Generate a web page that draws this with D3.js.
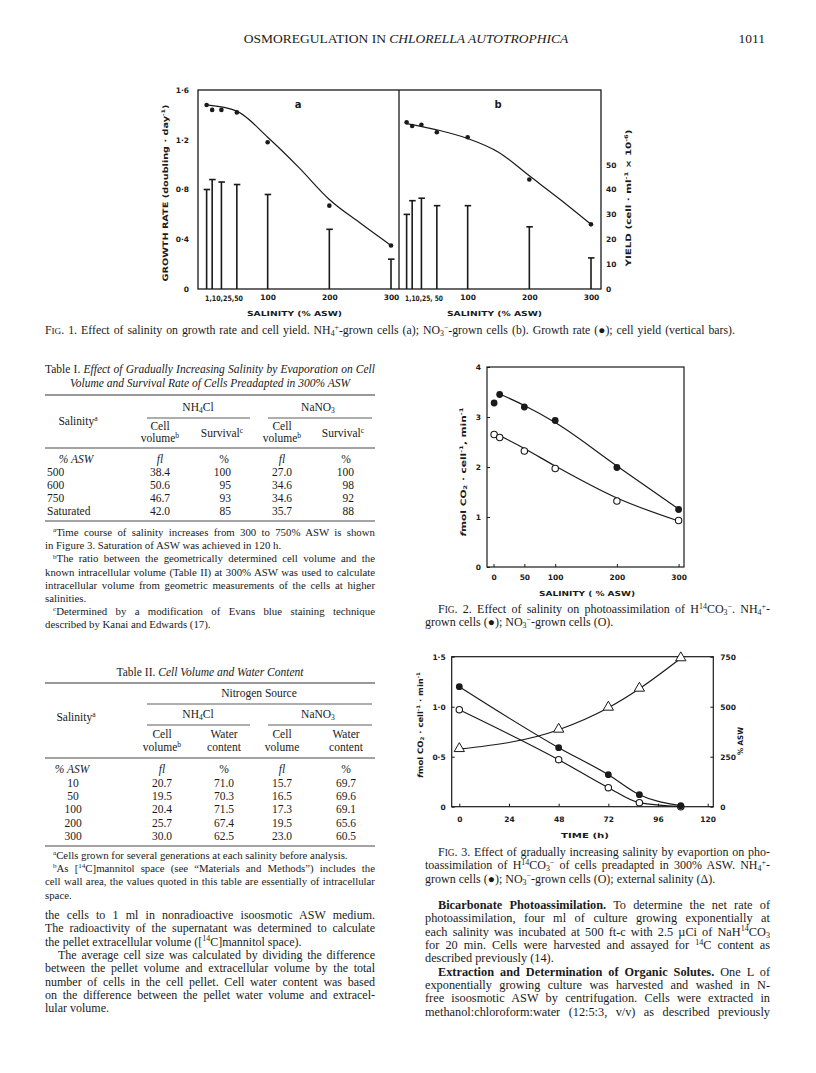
<!DOCTYPE html>
<html>
<head>
<meta charset="utf-8">
<script src="https://cdn.jsdelivr.net/npm/d3@7"></script>
<style>
  body { margin: 0; background: #fff; }
  svg { display: block; }
</style>
</head>
<body>
<svg id="page" width="816" height="1073"></svg>
<script>
// ---- Fig. 1 : growth rate and cell yield vs salinity ----
const salinity1 = [1, 10, 25, 50, 100, 200, 300];
const growthNH4 = [1.48, 1.44, 1.44, 1.42, 1.18, 0.67, 0.35];
const growthNO3 = [1.34, 1.31, 1.32, 1.26, 1.22, 0.88, 0.52];
const yieldNH4 = [40, 44, 43, 42, 38, 24, 12];
const yieldNO3 = [30, 35.5, 36.5, 33.5, 33.5, 25, 12.5];
const fitSal1 = [1, 50, 100, 150, 200, 250, 300];
const fitGrowthNH4 = [1.48, 1.43, 1.22, 0.98, 0.72, 0.53, 0.35];
const fitGrowthNO3 = [1.33, 1.28, 1.21, 1.10, 0.91, 0.72, 0.52];
const growthTicks = [0, 0.4, 0.8, 1.2, 1.6];
const yieldTicks = [0, 10, 20, 30, 40, 50];
const salTicks1 = [100, 200, 300];

// ---- Fig. 2 : photoassimilation vs salinity ----
const salinity2 = [1, 10, 50, 100, 200, 300];
const co2NH4 = [3.28, 3.45, 3.2, 2.93, 1.99, 1.15];
const co2NO3 = [2.65, 2.59, 2.32, 1.97, 1.32, 0.93];
const fitSal2 = [8, 50, 100, 200, 300];
const fitCo2NH4 = [3.47, 3.23, 2.89, 2.02, 1.16];
const fitCo2NO3 = [2.64, 2.37, 2.02, 1.38, 0.92];
const co2Ticks = [0, 1, 2, 3, 4];
const salTicks2 = [0, 50, 100, 200, 300];

// ---- Fig. 3 : time course during evaporation ----
const time3 = [0, 48, 72, 87, 107];
const co2NH4t = [1.2, 0.59, 0.32, 0.12, 0.01];
const co2NO3t = [0.97, 0.47, 0.19, 0.04, 0.0];
const aswT = [288, 385, 495, 590, 742];
const timeTicks = [0, 24, 48, 72, 96, 120];
const co2Ticks3 = [0, 0.5, 1.0, 1.5];
const aswTicks = [0, 250, 500, 750];

// ---- Table I ----
const t1Sal = ['500', '600', '750', 'Saturated'];
const t1VolNH4 = ['38.4', '50.6', '46.7', '42.0'];
const t1SurvNH4 = ['100', '95', '93', '85'];
const t1VolNO3 = ['27.0', '34.6', '34.6', '35.7'];
const t1SurvNO3 = ['100', '98', '92', '88'];

// ---- Table II ----
const t2Sal = ['10', '50', '100', '200', '300'];
const t2VolNH4 = ['20.7', '19.5', '20.4', '25.7', '30.0'];
const t2WaterNH4 = ['71.0', '70.3', '71.5', '67.4', '62.5'];
const t2VolNO3 = ['15.7', '16.5', '17.3', '19.5', '23.0'];
const t2WaterNO3 = ['69.7', '69.6', '69.1', '65.6', '60.5'];

const INK = '#1a1a1a';
const SERIF = '"Liberation Serif", "Times New Roman", serif';
const LET = '"DejaVu Sans", sans-serif';

const svg = d3.select('#page');
svg.append('rect').attr('width', 816).attr('height', 1073).attr('fill', '#fff');

// small markup: <i> <b> <k>(small caps) _{sub} ^{sup}
function rich(g, str, x, y, size, opts = {}) {
  const t = g.append('text').attr('x', x).attr('y', y)
    .attr('font-family', opts.family || SERIF).attr('font-size', size)
    .attr('fill', INK);
  if (opts.anchor) t.attr('text-anchor', opts.anchor);
  if (opts.weight) t.attr('font-weight', opts.weight);
  const parts = str.split(/(<\/?[ibk]>|_\{[^}]*\}|\^\{[^}]*\})/).filter(p => p);
  let it = false, bd = false, sc = false, off = 0;
  parts.forEach(p => {
    if (p === '<i>') { it = true; return; }
    if (p === '</i>') { it = false; return; }
    if (p === '<b>') { bd = true; return; }
    if (p === '</b>') { bd = false; return; }
    if (p === '<k>') { sc = true; return; }
    if (p === '</k>') { sc = false; return; }
    let text = p, fs = size, shift = 0;
    if (p.startsWith('_{')) { text = p.slice(2, -1); fs = size * 0.66; shift = size * 0.16; }
    else if (p.startsWith('^{')) { text = p.slice(2, -1); fs = size * 0.66; shift = -size * 0.36; }
    if (sc) fs = size * 0.78;
    const ts = t.append('tspan').text(text).attr('font-size', fs);
    if (shift - off !== 0) ts.attr('dy', shift - off);
    off = shift;
    if (it) ts.attr('font-style', 'italic');
    if (bd) ts.attr('font-weight', 'bold');
  });
  if (opts.width) {
    const n = t.node().getComputedTextLength();
    const spaces = (t.text().match(/ /g) || []).length;
    if (spaces) t.attr('word-spacing', ((opts.width - n) / spaces).toFixed(2));
  }
  if (opts.length) t.attr('textLength', opts.length).attr('lengthAdjust', 'spacingAndGlyphs');
  return t;
}

function paragraph(g, lines, x0, right, y0, lead, size) {
  lines.forEach((ln, i) => {
    const x = x0 + (ln.indent || 0);
    rich(g, ln.s, x, y0 + i * lead, size, ln.last ? {} : { width: right - x });
  });
}

function rule(g, x1, x2, y, w) {
  g.append('line').attr('x1', x1).attr('x2', x2).attr('y1', y).attr('y2', y)
    .attr('stroke', '#333').attr('stroke-width', w || 0.9);
}

const dec = d => d === 0 ? '0' : d3.format('.1f')(d).replace('.', '·');
const int = d3.format('d');

function styleAxis(g, size) {
  g.select('.domain').remove();
  g.selectAll('line').attr('stroke', INK).attr('stroke-width', 1);
  g.selectAll('text').attr('font-family', LET).attr('font-size', size)
    .attr('font-weight', 'bold').attr('fill', INK);
}

// ---------------- header ----------------
const head = svg.append('g');
rich(head, 'OSMOREGULATION IN <i>CHLORELLA AUTOTROPHICA</i>', 406, 43, 13.5, { anchor: 'middle' });
rich(head, '1011', 765, 43, 13.5, { anchor: 'end' });

// ---------------- Fig. 1 ----------------
const f1 = svg.append('g');
const yGrowth = d3.scaleLinear().domain([0, 1.6]).range([289, 90]);
const yYield = d3.scaleLinear().domain([0, 80]).range([289, 90]);
const xA = d3.scaleLinear().domain([0, 300]).range([206, 391]);
const xB = d3.scaleLinear().domain([0, 300]).range([406, 591]);

f1.append('rect').attr('x', 198).attr('y', 90).attr('width', 403).attr('height', 199)
  .attr('fill', 'none').attr('stroke', INK).attr('stroke-width', 1.3);
f1.append('line').attr('x1', 399).attr('x2', 399).attr('y1', 90).attr('y2', 289)
  .attr('stroke', INK).attr('stroke-width', 1.3);

const ga = f1.append('g').attr('transform', 'translate(198,0)')
  .call(d3.axisLeft(yGrowth).tickValues(growthTicks).tickSize(0).tickPadding(9).tickFormat(dec));
styleAxis(ga, 7.5);
const gy = f1.append('g').attr('transform', 'translate(601,0)')
  .call(d3.axisRight(yYield).tickValues(yieldTicks).tickSize(0).tickPadding(5).tickFormat(int));
styleAxis(gy, 7.5);

[[xA, 'a'], [xB, 'b']].forEach(([xs, lab]) => {
  const gb = f1.append('g').attr('transform', 'translate(0,289)')
    .call(d3.axisBottom(xs).tickValues(salTicks1).tickSize(0).tickPadding(6).tickFormat(int));
  styleAxis(gb, 7.5);
  rich(f1, lab === 'a' ? '1,10,25,50' : '1,10,25, 50', xs(0) - 1, 301, 7.5,
    { family: LET, weight: 'bold', length: 38 });
  rich(f1, 'SALINITY  (% ASW)', (xs(0) + xs(300)) / 2 - 4, 316, 7,
    { family: LET, weight: 'bold', anchor: 'middle', length: 95 });
});
rich(f1, 'a', 298, 108, 10, { family: LET, weight: 'bold', anchor: 'middle' });
rich(f1, 'b', 498, 108, 10, { family: LET, weight: 'bold', anchor: 'middle' });

rich(f1.append('g').attr('transform', 'translate(168,193) rotate(-90)'),
  'GROWTH  RATE  (doubling · day^{-1})', 0, 0, 7.5,
  { family: LET, weight: 'bold', anchor: 'middle', length: 177 });
rich(f1.append('g').attr('transform', 'translate(631,198) rotate(-90)'),
  'YIELD  (cell · ml^{-1} × 10^{-6})', 0, 0, 7.5,
  { family: LET, weight: 'bold', anchor: 'middle', length: 137 });

function fig1Panel(xs, growth, yields, fit) {
  const g = f1.append('g');
  salinity1.forEach((s, i) => {
    g.append('line').attr('x1', xs(s)).attr('x2', xs(s))
      .attr('y1', yYield(0)).attr('y2', yYield(yields[i]))
      .attr('stroke', INK).attr('stroke-width', 1.6);
    g.append('line').attr('x1', xs(s) - 3).attr('x2', xs(s) + 3.5)
      .attr('y1', yYield(yields[i])).attr('y2', yYield(yields[i]))
      .attr('stroke', INK).attr('stroke-width', 1.6);
  });
  const line = d3.line().x(d => xs(d[0])).y(d => yGrowth(d[1])).curve(d3.curveMonotoneX);
  g.append('path').attr('d', line(d3.zip(fitSal1, fit)))
    .attr('fill', 'none').attr('stroke', INK).attr('stroke-width', 1.2);
  g.selectAll('circle').data(d3.zip(salinity1, growth)).join('circle')
    .attr('cx', d => xs(d[0])).attr('cy', d => yGrowth(d[1])).attr('r', 2.3).attr('fill', INK);
}
fig1Panel(xA, growthNH4, yieldNH4, fitGrowthNH4);
fig1Panel(xB, growthNO3, yieldNO3, fitGrowthNO3);

rich(svg, 'F<k>IG</k>. 1. Effect of salinity on growth rate and cell yield. NH_{4}^{+}-grown cells (a); NO_{3}^{−}-grown cells (b). Growth rate (●); cell yield (vertical bars).',
  45, 334, 11.8, { width: 690 });

// ---------------- Table I ----------------
const t1 = svg.append('g');
rich(t1, 'Table I. <i>Effect of Gradually Increasing Salinity by Evaporation on Cell</i>', 45, 373, 11.5, { width: 330 });
rich(t1, '<i>Volume and Survival Rate of Cells Preadapted in 300% ASW</i>', 210, 387, 11.5, { anchor: 'middle' });
rule(t1, 45, 375, 395, 1.2);
rich(t1, 'NH_{4}Cl', 198, 411, 11.5, { anchor: 'middle' });
rich(t1, 'NaNO_{3}', 318, 411, 11.5, { anchor: 'middle' });
rule(t1, 147, 250, 418, 0.8);
rule(t1, 268, 372, 418, 0.8);
rich(t1, 'Salinity^{a}', 78, 425, 11.5, { anchor: 'middle' });
[[160, 'Cell', 'volume^{b}'], [282, 'Cell', 'volume^{b}']].forEach(([x, a, b]) => {
  rich(t1, a, x, 430, 11.5, { anchor: 'middle' });
  rich(t1, b, x, 442, 11.5, { anchor: 'middle' });
});
rich(t1, 'Survival^{c}', 222, 437, 11.5, { anchor: 'middle' });
rich(t1, 'Survival^{c}', 343, 437, 11.5, { anchor: 'middle' });
rule(t1, 45, 375, 448, 0.9);
rich(t1, '<i>% ASW</i>', 76, 463, 11.5, { anchor: 'middle' });
rich(t1, '<i>fl</i>', 160, 463, 11.5, { anchor: 'middle' });
rich(t1, '%', 224, 463, 11.5, { anchor: 'middle' });
rich(t1, '<i>fl</i>', 282, 463, 11.5, { anchor: 'middle' });
rich(t1, '%', 346, 463, 11.5, { anchor: 'middle' });
t1Sal.forEach((s, i) => {
  const y = 476 + i * 13;
  rich(t1, s, 47, y, 11.5);
  rich(t1, t1VolNH4[i], 160, y, 11.5, { anchor: 'middle' });
  rich(t1, t1SurvNH4[i], 231, y, 11.5, { anchor: 'end' });
  rich(t1, t1VolNO3[i], 282, y, 11.5, { anchor: 'middle' });
  rich(t1, t1SurvNO3[i], 354, y, 11.5, { anchor: 'end' });
});
rule(t1, 45, 375, 521, 0.9);
paragraph(t1, [
  { s: '^{a}Time course of salinity increases from 300 to 750% ASW is shown', indent: 8 },
  { s: 'in Figure 3. Saturation of ASW was achieved in 120 h.', last: true },
  { s: '^{b}The ratio between the geometrically determined cell volume and the', indent: 8 },
  { s: 'known intracellular volume (Table II) at 300% ASW was used to calculate' },
  { s: 'intracellular volume from geometric measurements of the cells at higher' },
  { s: 'salinities.', last: true },
  { s: '^{c}Determined by a modification of Evans blue staining technique', indent: 8 },
  { s: 'described by Kanai and Edwards (17).', last: true }
], 45, 375, 536, 13.2, 10.8);

// ---------------- Table II ----------------
const t2 = svg.append('g');
rich(t2, 'Table II. <i>Cell Volume and Water Content</i>', 210, 676, 11.5, { anchor: 'middle' });
rule(t2, 45, 375, 683, 1.2);
rich(t2, 'Nitrogen Source', 259, 697, 11.5, { anchor: 'middle' });
rule(t2, 147, 372, 704, 0.8);
rich(t2, 'NH_{4}Cl', 198, 718, 11.5, { anchor: 'middle' });
rich(t2, 'NaNO_{3}', 318, 718, 11.5, { anchor: 'middle' });
rule(t2, 147, 250, 725, 0.8);
rule(t2, 268, 372, 725, 0.8);
rich(t2, 'Salinity^{a}', 76, 721, 11.5, { anchor: 'middle' });
[[162, 'Cell', 'volume^{b}'], [224, 'Water', 'content'], [282, 'Cell', 'volume'], [346, 'Water', 'content']]
  .forEach(([x, a, b]) => {
    rich(t2, a, x, 738, 11.5, { anchor: 'middle' });
    rich(t2, b, x, 751, 11.5, { anchor: 'middle' });
  });
rule(t2, 45, 375, 758, 0.9);
rich(t2, '<i>% ASW</i>', 72, 773, 11.5, { anchor: 'middle' });
rich(t2, '<i>fl</i>', 162, 773, 11.5, { anchor: 'middle' });
rich(t2, '%', 224, 773, 11.5, { anchor: 'middle' });
rich(t2, '<i>fl</i>', 282, 773, 11.5, { anchor: 'middle' });
rich(t2, '%', 346, 773, 11.5, { anchor: 'middle' });
t2Sal.forEach((s, i) => {
  const y = 787 + i * 13.2;
  rich(t2, s, 73, y, 11.5, { anchor: 'middle' });
  rich(t2, t2VolNH4[i], 162, y, 11.5, { anchor: 'middle' });
  rich(t2, t2WaterNH4[i], 224, y, 11.5, { anchor: 'middle' });
  rich(t2, t2VolNO3[i], 282, y, 11.5, { anchor: 'middle' });
  rich(t2, t2WaterNO3[i], 346, y, 11.5, { anchor: 'middle' });
});
rule(t2, 45, 375, 846, 0.9);
paragraph(t2, [
  { s: '^{a}Cells grown for several generations at each salinity before analysis.', indent: 8, last: true },
  { s: '^{b}As [^{14}C]mannitol space (see “Materials and Methods”) includes the', indent: 8 },
  { s: 'cell wall area, the values quoted in this table are essentially of intracellular' },
  { s: 'space.', last: true }
], 45, 375, 859, 13.2, 10.8);

// ---------------- left column body ----------------
paragraph(svg, [
  { s: 'the cells to 1 ml in nonradioactive isoosmotic ASW medium.' },
  { s: 'The radioactivity of the supernatant was determined to calculate' },
  { s: 'the pellet extracellular volume ([^{14}C]mannitol space).', last: true },
  { s: 'The average cell size was calculated by dividing the difference', indent: 13 },
  { s: 'between the pellet volume and extracellular volume by the total' },
  { s: 'number of cells in the cell pellet. Cell water content was based' },
  { s: 'on the difference between the pellet water volume and extracel-' },
  { s: 'lular volume.', last: true }
], 45, 375, 919, 13.35, 12);

// ---------------- Fig. 2 ----------------
const f2 = svg.append('g');
const x2 = d3.scaleLinear().domain([0, 300]).range([493.5, 678.6]);
const y2 = d3.scaleLinear().domain([0, 4]).range([567, 367]);
f2.append('rect').attr('x', 487).attr('y', 367).attr('width', 197).attr('height', 200)
  .attr('fill', 'none').attr('stroke', INK).attr('stroke-width', 1.2);
styleAxis(f2.append('g').attr('transform', 'translate(487,0)')
  .call(d3.axisLeft(y2).tickValues(co2Ticks).tickSizeInner(-3).tickSizeOuter(0).tickPadding(6).tickFormat(int)), 7.5);
styleAxis(f2.append('g').attr('transform', 'translate(0,567)')
  .call(d3.axisBottom(x2).tickValues(salTicks2).tickSizeInner(-3).tickSizeOuter(0).tickPadding(8).tickFormat(int)), 7.5);
rich(f2, 'SALINITY  ( % ASW)', 587, 596, 7, { family: LET, weight: 'bold', anchor: 'middle', length: 96 });
rich(f2.append('g').attr('transform', 'translate(466,472) rotate(-90)'),
  '<i>f</i>mol  CO_{2} · cell^{-1}, min^{-1}', 0, 0, 7.5,
  { family: LET, weight: 'bold', anchor: 'middle', length: 129 });
const line2 = d3.line().x(d => x2(d[0])).y(d => y2(d[1])).curve(d3.curveMonotoneX);
[fitCo2NH4, fitCo2NO3].forEach(fit => {
  f2.append('path').attr('d', line2(d3.zip(fitSal2, fit)))
    .attr('fill', 'none').attr('stroke', INK).attr('stroke-width', 1.2);
});
f2.append('g').selectAll('circle').data(d3.zip(salinity2, co2NH4)).join('circle')
  .attr('cx', d => x2(d[0])).attr('cy', d => y2(d[1])).attr('r', 3.4).attr('fill', INK);
f2.append('g').selectAll('circle').data(d3.zip(salinity2, co2NO3)).join('circle')
  .attr('cx', d => x2(d[0])).attr('cy', d => y2(d[1])).attr('r', 3.2)
  .attr('fill', '#fff').attr('stroke', INK).attr('stroke-width', 1.1);

paragraph(svg, [
  { s: 'F<k>IG</k>. 2. Effect of salinity on photoassimilation of H^{14}CO_{3}^{−}. NH_{4}^{+}-', indent: 13 },
  { s: 'grown cells (●); NO_{3}^{−}-grown cells (O).', last: true }
], 425, 770, 613, 13.3, 12);

// ---------------- Fig. 3 ----------------
const f3 = svg.append('g');
const x3 = d3.scaleLinear().domain([0, 120]).range([459.3, 707.7]);
const yP = d3.scaleLinear().domain([0, 1.5]).range([806.7, 656.7]);
const yS = d3.scaleLinear().domain([0, 750]).range([806.7, 656.7]);
f3.append('rect').attr('x', 451.7).attr('y', 656.7).attr('width', 261.6).attr('height', 150)
  .attr('fill', 'none').attr('stroke', INK).attr('stroke-width', 1.2);
styleAxis(f3.append('g').attr('transform', 'translate(451.7,0)')
  .call(d3.axisLeft(yP).tickValues(co2Ticks3).tickSizeInner(-3).tickSizeOuter(0).tickPadding(6).tickFormat(dec)), 7.5);
styleAxis(f3.append('g').attr('transform', 'translate(713.3,0)')
  .call(d3.axisRight(yS).tickValues(aswTicks).tickSizeInner(-3).tickSizeOuter(0).tickPadding(7).tickFormat(int)), 7.5);
styleAxis(f3.append('g').attr('transform', 'translate(0,806.7)')
  .call(d3.axisBottom(x3).tickValues(timeTicks).tickSizeInner(-3).tickSizeOuter(0).tickPadding(10).tickFormat(int)), 7.5);
rich(f3, 'TIME  (h)', 585, 838, 7, { family: LET, weight: 'bold', anchor: 'middle', length: 48 });
rich(f3.append('g').attr('transform', 'translate(423,725) rotate(-90)'),
  '<i>f</i>mol  CO_{2} · cell^{-1} · min^{-1}', 0, 0, 7.5,
  { family: LET, weight: 'bold', anchor: 'middle', length: 106 });
rich(f3.append('g').attr('transform', 'translate(743,741) rotate(-90)'),
  '% ASW', 0, 0, 7.5, { family: LET, weight: 'bold', anchor: 'middle', length: 28 });

const lineP = d3.line().x(d => x3(d[0])).y(d => yP(d[1])).curve(d3.curveMonotoneX);
const lineS = d3.line().x(d => x3(d[0])).y(d => yS(d[1])).curve(d3.curveMonotoneX);
f3.append('path').attr('d', lineS(d3.zip(time3, aswT)))
  .attr('fill', 'none').attr('stroke', INK).attr('stroke-width', 1.2);
f3.append('path').attr('d', lineP(d3.zip(time3, co2NO3t)))
  .attr('fill', 'none').attr('stroke', INK).attr('stroke-width', 1.2);
f3.append('path').attr('d', lineP(d3.zip(time3, co2NH4t)))
  .attr('fill', 'none').attr('stroke', INK).attr('stroke-width', 1.2);
f3.append('g').selectAll('path').data(d3.zip(time3, aswT)).join('path')
  .attr('transform', d => `translate(${x3(d[0])},${yS(d[1]) - 0.5})`)
  .attr('d', d3.symbol(d3.symbolTriangle, 46)())
  .attr('fill', '#fff').attr('stroke', INK).attr('stroke-width', 1);
f3.append('g').selectAll('circle').data(d3.zip(time3, co2NO3t)).join('circle')
  .attr('cx', d => x3(d[0])).attr('cy', d => yP(d[1])).attr('r', 3.2)
  .attr('fill', '#fff').attr('stroke', INK).attr('stroke-width', 1.1);
f3.append('g').selectAll('circle').data(d3.zip(time3, co2NH4t)).join('circle')
  .attr('cx', d => x3(d[0])).attr('cy', d => yP(d[1])).attr('r', 3.4).attr('fill', INK);

paragraph(svg, [
  { s: 'F<k>IG</k>. 3. Effect of gradually increasing salinity by evaportion on pho-', indent: 13 },
  { s: 'toassimilation of H^{14}CO_{3}^{−} of cells preadapted in 300% ASW. NH_{4}^{+}-' },
  { s: 'grown cells (●); NO_{3}^{−}-grown cells (O); external salinity (Δ).', last: true }
], 425, 770, 856, 13.3, 12);

// ---------------- right column body ----------------
paragraph(svg, [
  { s: '<b>Bicarbonate Photoassimilation.</b> To determine the net rate of', indent: 13 },
  { s: 'photoassimilation, four ml of culture growing exponentially at' },
  { s: 'each salinity was incubated at 500 ft-c with 2.5 µCi of NaH^{14}CO<tspan>_{3}' },
  { s: 'for 20 min. Cells were harvested and assayed for ^{14}C content as' },
  { s: 'described previously (14).', last: true },
  { s: '<b>Extraction and Determination of Organic Solutes.</b> One L of', indent: 13 },
  { s: 'exponentially growing culture was harvested and washed in N-' },
  { s: 'free isoosmotic ASW by centrifugation. Cells were extracted in' },
  { s: 'methanol:chloroform:water (12:5:3, v/v) as described previously' }
].map(l => ({ ...l, s: l.s.replace('<tspan>', '') })), 425, 770, 909, 13.35, 12.3);
</script>
</body>
</html>
